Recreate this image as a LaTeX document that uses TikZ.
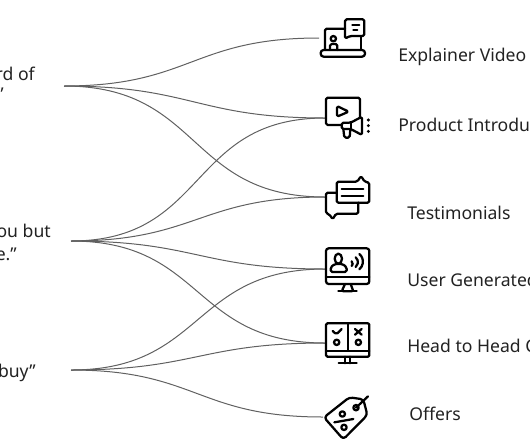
\documentclass[tikz,border=0pt]{standalone}
\usepackage{fontspec}
\setmainfont{Noto Sans}
\usepackage{xcolor}
\usetikzlibrary{positioning}
\definecolor{linkgray}{HTML}{606060}
\definecolor{inkgray}{HTML}{222222}
\tikzset{
  link/.style={draw=linkgray, line width=0.75pt, out=0, in=180, looseness=1.25},
  lefttext/.style={anchor=base east, inner sep=0pt, text=inkgray, font=\fontsize{13.2}{16}\selectfont},
  righttext/.style={anchor=base west, inner sep=0pt, text=inkgray, font=\fontsize{13.2}{16}\selectfont},
  iconline/.style={draw=black, line width=1.7pt, line join=round, line cap=round, rounded corners=1.2pt},
  zoomed/.style={shift={(300,#1)}, x=0.25pt, y=-0.25pt}
}

\begin{document}
\begin{tikzpicture}[x=0.75pt, y=-0.75pt]
    \useasboundingbox (0,0) rectangle (530,443);
    \clip (0,0) rectangle (530,443);

    % quotes on the left
    \node[lefttext] (quoteAa) at (35,80) {rd of};
    \node[lefttext] (quoteAb) at (4,100) {”};
    \node[lefttext] (quoteBa) at (51,237) {ou but};
    \node[lefttext] (quoteBb) at (17,260) {e.”};
    \node[lefttext] (quoteC) at (36,377) {buy”};

    % formats on the right
    \node[righttext] (textVideo) at (398,61) {Explainer Video};
    \node[righttext] (textProduct) at (398,131) {Product Introdu};
    \node[righttext] (textTestimonials) at (407,219) {Testimonials};
    \node[righttext] (textUser) at (407,286) {User Generated};
    \node[righttext] (textHead) at (407,352) {Head to Head C};
    \node[righttext] (textOffers) at (409,420) {Offers};

    % connector ends
    \coordinate (quoteA) at (64,86);
    \coordinate (quoteB) at (71,241);
    \coordinate (quoteCc) at (71,370);
    \coordinate (iconVideo) at (319,38);
    \coordinate (iconProduct) at (325,118);
    \coordinate (iconTestimonials) at (325,197);
    \coordinate (iconUser) at (325,269);
    \coordinate (iconHead) at (325,343);
    \coordinate (iconOffers) at (323,417);

    \foreach \from/\to in {quoteA/iconVideo, quoteA/iconProduct, quoteA/iconTestimonials,
        quoteB/iconProduct, quoteB/iconTestimonials, quoteB/iconUser, quoteB/iconHead,
        quoteCc/iconUser, quoteCc/iconHead, quoteCc/iconOffers}
      \draw[link] (\from) to (\to);

    % laptop with chat bubble
    \begin{scope}[zoomed=0]
      \draw[iconline] (75,150) -- (75,86) -- (135,86);
      \draw[iconline] (183,112) -- (183,150);
      \draw[iconline, rounded corners=2.2pt] (62,150) -- (195,150) -- (195,170) -- (62,170) -- cycle;
      \draw[iconline] (135,116) -- (135,58) -- (193,58) -- (193,108) -- (150,108) -- cycle;
      \draw[iconline] (157,75) -- (178,75);
      \draw[iconline] (160,90) -- (172,90);
      \draw[iconline] (100,116) circle (8);
      \draw[iconline] (90,150) -- (90,132) -- (112,132) -- (112,150);
    \end{scope}

    % screen with megaphone
    \begin{scope}[zoomed=0]
      \draw[iconline] (122,375) -- (78,375) -- (78,293) -- (180,293) -- (180,350);
      \draw[iconline] (111,318) -- (146,335) -- (111,350) -- cycle;
      \draw[iconline] (125,368) -- (152,368) -- (186,350) -- (186,405) -- (152,387) -- (125,387) -- cycle;
      \draw[iconline] (152,368) -- (152,387);
      \draw[iconline] (130,387) -- (133,413) -- (149,413) -- (151,387);
      \foreach \dotY in {360,377,394}
        \fill (205,\dotY) circle (5);
    \end{scope}

    % two speech bubbles
    \begin{scope}[zoomed=160]
      \draw[iconline] (110,65) -- (172,65) -- (183,48) -- (194,65) -- (208,68) -- (208,128) -- (110,128) -- cycle;
      \draw[iconline] (125,87) -- (190,87);
      \draw[iconline] (125,107) -- (190,107);
      \draw[iconline] (110,98) -- (78,98) -- (78,160) -- (88,163) -- (98,178) -- (108,161) -- (175,161) -- (175,128);
    \end{scope}

    % monitor with speaking person
    \begin{scope}[zoomed=160]
      \draw[iconline, rounded corners=2pt] (78,265) rectangle (208,372);
      \draw[iconline] (78,350) -- (208,350);
      \draw[iconline] (135,372) -- (125,394) -- (160,394) -- (152,372);
      \draw[iconline] (115,394) -- (170,394);
      \draw[iconline] (115,296) ellipse (11 and 15);
      \draw[iconline] (92,336) -- (92,322) -- (104,312) -- (128,312) -- (140,322) -- (140,336) -- cycle;
      \draw[iconline] (155,304) arc (-50:50:9);
      \draw[iconline] (167,292) arc (-50:50:19);
      \draw[iconline] (178,282) arc (-50:50:30);
    \end{scope}

    % monitor with comparison
    \begin{scope}[zoomed=300]
      \draw[iconline, rounded corners=1pt] (78,70) rectangle (208,170);
      \draw[iconline] (143,70) -- (143,152);
      \draw[iconline] (78,152) -- (208,152);
      \draw[iconline] (135,170) -- (135,190);
      \draw[iconline] (151,170) -- (151,190);
      \draw[iconline] (116,190) -- (170,190);
      \draw[iconline] (98,93) -- (109,103) -- (125,87);
      \draw[iconline] (165,87) -- (185,104);
      \draw[iconline] (185,87) -- (165,104);
      \draw[iconline] (110,127) circle (8);
      \draw[iconline] (175,127) circle (8);
    \end{scope}

    % price tag
    \begin{scope}[zoomed=300]
      \draw[iconline, rounded corners=2.5pt] (72,352) -- (148,292) -- (190,298) -- (202,345) -- (130,418) -- cycle;
      \draw[iconline] (168,323) circle (8);
      \draw[iconline] (168,323) -- (204,289);
      \draw[iconline] (127,342) circle (8);
      \draw[iconline] (132,382) circle (8);
      \draw[iconline] (103,367) -- (160,357);
    \end{scope}
  \end{tikzpicture}
\end{document}
